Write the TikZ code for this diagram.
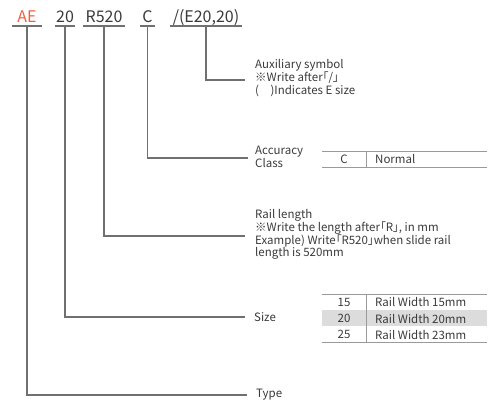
\documentclass[tikz,border=0pt]{standalone}
\usepackage{fontspec}
\setmainfont{Noto Sans CJK JP}[RawFeature=+palt]
\definecolor{aered}{HTML}{F2603F}
\definecolor{txt}{HTML}{3A3A3A}
\definecolor{ln}{HTML}{707070}
\definecolor{tl}{HTML}{9A9A9A}
\definecolor{rowgray}{HTML}{DCDCDC}
\begin{document}
\begin{tikzpicture}[x=1pt,y=-1pt,
  hdr/.style={font=\fontsize{16}{18}\selectfont, text=txt, inner sep=0pt, anchor=south, text depth=3pt, align=center},
  conn/.style={draw=ln, line width=1.3pt},
  lbl/.style={font=\fontsize{11.5}{12.7}\selectfont, text=txt, inner sep=0pt, anchor=west, align=left},
  cell/.style={font=\fontsize{11.5}{12.7}\selectfont, text=txt, inner sep=0pt},
  tline/.style={draw=tl, line width=0.9pt}]
\useasboundingbox (0,0) rectangle (488,403);
% header
\node[hdr, minimum width=30pt, text=aered] (ae) at (27,26) {AE};
\node[hdr, minimum width=20pt] (sz) at (65,26) {20};
\node[hdr, minimum width=42pt] (rl) at (104,26) {R520};
\node[hdr, minimum width=15pt] (ac) at (147.5,26) {C};
\node[hdr, minimum width=72pt] (ax) at (206,26) {/(E20,20)};
\foreach \n in {ae,sz,rl,ac,ax} \draw[conn] (\n.south west) -- (\n.south east);
% labels
\node[lbl, anchor=north west] (auxl) at (255,59.5) {Auxiliary symbol\\※Write after「/」\\(\quad)Indicates E size};
\coordinate (auxend) at (245,80);
\node[lbl, anchor=north west] (accl) at (255,146) {Accuracy\\Class};
\coordinate (accend) at (248,158);
\node[lbl, anchor=north west] (rll) at (255,209.5) {Rail length\\※Write the length after「R」, in mm\\Example) Write「R520」when slide rail\\length is 520mm};
\coordinate (rlend) at (245,236);
\node[lbl] (szl) at (254,317) {Size};
\coordinate (szend) at (245,317);
\node[lbl] (typel) at (256,395) {Type};
\coordinate (typeend) at (247,395);
% connectors
\draw[conn] (ax.south) |- (auxend);
\draw[conn] (ac.south) |- (accend);
\draw[conn] (rl.south) |- (rlend);
\draw[conn] (sz.south) |- (szend);
\draw[conn] (ae.south) |- (typeend);
% accuracy table
\draw[tline] (322,151) -- (487,151);
\draw[tline] (322,167) -- (487,167);
\draw[tline] (366,151) -- (366,167);
\node[cell] (accc) at (344,159.5) {C};
\node[cell, anchor=west] (accn) at (375,159.5) {Normal};
% size table
\fill[rowgray] (322,310) rectangle (487,326);
\draw[tline] (322,294) -- (487,294);
\draw[tline] (322,342) -- (487,342);
\draw[tline] (366,294) -- (366,342);
\node[cell] (s15) at (344,302.5) {15};
\node[cell, anchor=west] (w15) at (375,302.5) {Rail Width 15mm};
\node[cell] (s20) at (344,318.5) {20};
\node[cell, anchor=west] (w20) at (375,318.5) {Rail Width 20mm};
\node[cell] (s25) at (344,334.5) {25};
\node[cell, anchor=west] (w25) at (375,334.5) {Rail Width 23mm};
\end{tikzpicture}
\end{document}
